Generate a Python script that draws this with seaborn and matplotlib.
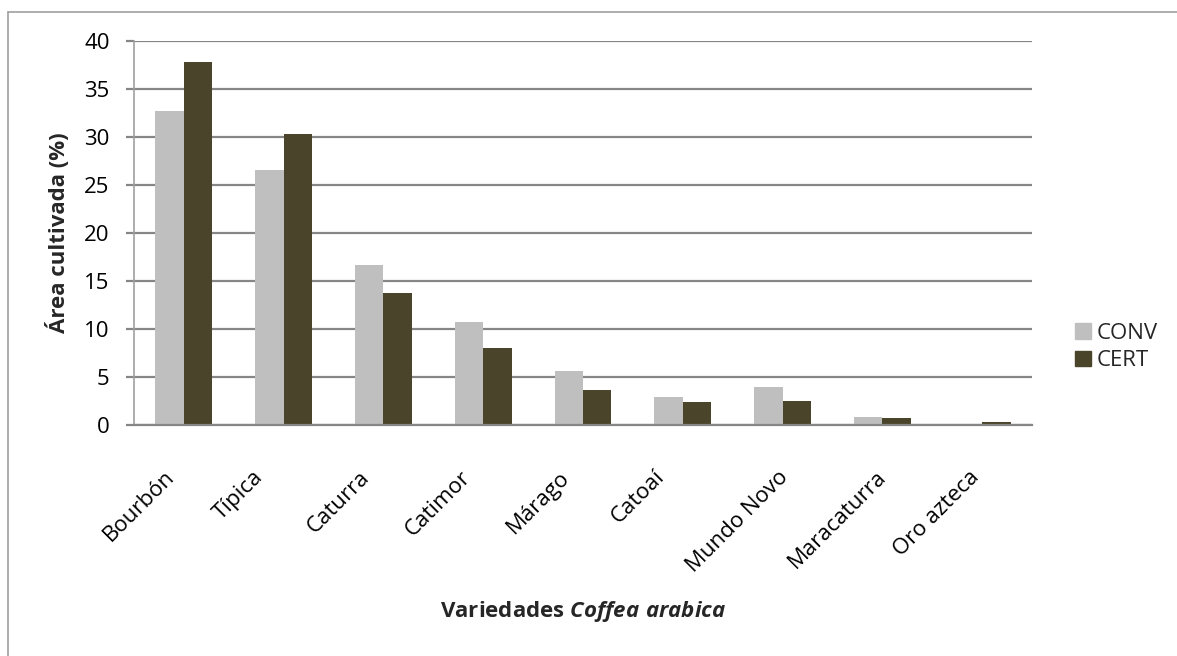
import matplotlib
matplotlib.use("Agg")
import matplotlib.pyplot as plt
import matplotlib.patches as mpatches
import matplotlib.transforms as mtransforms
from matplotlib.lines import Line2D
import pandas as pd
import seaborn as sns

variedades = ["Bourbón", "Típica", "Caturra", "Catimor", "Márago",
              "Catoaí", "Mundo Novo", "Maracaturra", "Oro azteca"]
conv = [32.7, 26.6, 16.7, 10.75, 5.6, 2.95, 4.0, 0.87, 0.0]
cert = [37.8, 30.3, 13.7, 8.0, 3.67, 2.35, 2.45, 0.7, 0.35]
grupos = ["CONV", "CERT"]
colores = {"CONV": "#BFBFBF", "CERT": "#4A452A"}
yticks = [0, 5, 10, 15, 20, 25, 30, 35, 40]

df = pd.DataFrame({
    "variedad": variedades * 2,
    "valor": conv + cert,
    "grupo": [grupos[0]] * len(variedades) + [grupos[1]] * len(variedades),
})

sns.set_theme(style="white")
plt.rcParams["font.family"] = ["Open Sans", "DejaVu Sans"]
plt.rcParams["mathtext.fontset"] = "custom"
plt.rcParams["mathtext.it"] = "Open Sans:italic:bold"
plt.rcParams["mathtext.rm"] = "Open Sans:bold"

FS = 16
W, H = 1177, 656
fig = plt.figure(figsize=(W / 100, H / 100), dpi=100)
ax = fig.add_axes([134 / W, 1 - 425 / H, (1032 - 134) / W, (425 - 41) / H])

sns.barplot(data=df, x="variedad", y="valor", hue="grupo", order=variedades,
            hue_order=grupos, palette=colores, width=0.57, gap=0,
            saturation=1, linewidth=0, legend=False, ax=ax)

grid_col = "#868686"
ax.set_ylim(0, 40)
ax.set_yticks(yticks)
ax.yaxis.grid(True, color=grid_col, linewidth=1.6)
ax.xaxis.grid(False)
ax.set_axisbelow(True)
for s in ["top", "right"]:
    ax.spines[s].set_visible(False)
ax.spines["left"].set_color("#A0A0A0")
ax.spines["left"].set_linewidth(1.2)
ax.spines["bottom"].set_color(grid_col)
ax.spines["bottom"].set_linewidth(1.6)
ax.tick_params(axis="y", which="major", length=5.5, width=1.6, color=grid_col,
               labelsize=FS, pad=12, left=True, labelcolor="black")
ax.tick_params(axis="x", length=0, labelsize=FS, pad=30, labelcolor="black")
ax.set_xticks(range(len(variedades)))
ax.set_xticklabels(variedades, rotation=45, ha="center", va="top")
shift = mtransforms.ScaledTranslation(-45 / 100, 0, fig.dpi_scale_trans)
for lab in ax.get_xticklabels():
    lab.set_transform(lab.get_transform() + shift)
ax.set_xlim(-0.5, len(variedades) - 0.5)

ax.set_xlabel("")
ax.set_ylabel("Área cultivada (%)", fontsize=FS, fontweight="bold")
ax.yaxis.set_label_coords(-(134 - 70) / (1032 - 134), 0.5)
fig.text(583 / W, 1 - 612 / H, "Variedades $\\mathit{Coffea\\ arabica}$",
         ha="center", va="center", fontsize=FS, fontweight="bold")

handles = [mpatches.Patch(color=colores[g], label=g) for g in grupos]
fig.legend(handles=handles, loc="center left",
           bbox_to_anchor=(1075 / W, 1 - 347 / H), frameon=False,
           fontsize=FS, handlelength=0.72, handleheight=0.7,
           handletextpad=0.27, labelspacing=0.3, borderpad=0,
           borderaxespad=0)

# outer chart frame (left and top edges visible)
fig.add_artist(Line2D([8 / W, 8 / W], [0, 1 - 12 / H],
                      transform=fig.transFigure, color="#A0A0A0", linewidth=1.2))
fig.add_artist(Line2D([8 / W, 1], [1 - 12 / H, 1 - 12 / H],
                      transform=fig.transFigure, color="#A0A0A0", linewidth=1.2))

fig.savefig("out.png", dpi=100)
